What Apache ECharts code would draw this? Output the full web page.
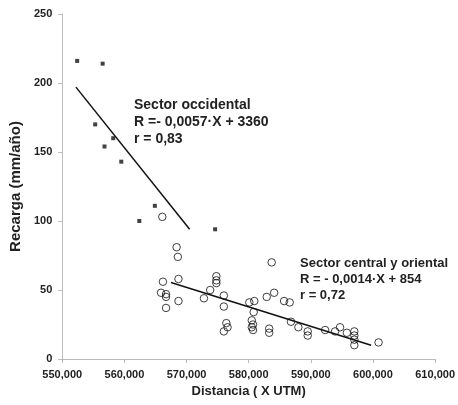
<!DOCTYPE html>
<html>
<head>
<meta charset="utf-8">
<script src="https://cdn.jsdelivr.net/npm/echarts@6/dist/echarts.min.js"></script>
<style>html,body{margin:0;padding:0;background:#fff}#c{width:458px;height:405px}</style>
</head>
<body>
<div id="c"></div>
<script>
// Sector occidental (filled squares)
var occX = [552400, 556500, 555300, 558200, 556800, 559500, 564900, 562400, 574600];
var occY = [216, 214, 170, 160, 154, 143, 111, 100, 94];
// Sector central y oriental (open circles)
var cenX = [566100, 568400, 568600, 566200, 568700, 565900, 566700, 566700, 568700, 566700,
            574800, 574800, 574800, 573800, 572800, 576000, 576000, 576400, 576000, 576600,
            583700, 580100, 580900, 582900, 584100, 585700, 586600, 580800, 580500, 580700,
            580500, 580700, 583300, 583300, 586800, 588000, 589500, 589500, 592300, 593900,
            594700, 595800, 597000, 597000, 597000, 597000, 600900];
var cenY = [103, 81, 74, 56, 58, 48, 47, 45, 42, 37,
            60, 57, 55, 50, 44, 46, 38, 26, 20, 23,
            70, 41, 42, 45, 48, 42, 41, 34, 28, 25,
            23, 21, 22, 19, 27, 23, 20, 17, 21, 20,
            23, 19, 20, 17, 14, 10, 12];
// Regression lines (endpoints)
var occLineX = [552200, 570500];
var occLineY = [197, 94];
var cenLineX = [567500, 599700];
var cenLineY = [55.5, 10];
// Ticks
var xTicks = [550000, 560000, 570000, 580000, 590000, 600000, 610000];
var yTicks = [0, 50, 100, 150, 200, 250];
var occText = ['Sector occidental', 'R =- 0,0057·X + 3360', 'r = 0,83'];
var cenText = ['Sector central y oriental', 'R = - 0,0014·X + 854', 'r = 0,72'];

function zip(a, b) { return a.map(function (v, i) { return [v, b[i]]; }); }
var FONT = '"Liberation Sans", Arial, sans-serif';
var TXT = '#222';
var chart = echarts.init(document.getElementById('c'));
chart.setOption({
  backgroundColor: '#fff',
  animation: false,
  grid: { left: 59, right: 22, top: 14, bottom: 46 },
  xAxis: {
    type: 'value', min: xTicks[0], max: xTicks[xTicks.length - 1], interval: 10000,
    name: 'Distancia ( X UTM)', nameLocation: 'middle', nameGap: 25,
    nameTextStyle: { fontFamily: FONT, fontWeight: 'bold', fontSize: 13, color: TXT },
    axisLine: { lineStyle: { color: '#bbb', width: 1 } },
    axisTick: { show: true, length: 4, lineStyle: { color: '#bbb' } },
    axisLabel: { margin: 10, fontFamily: FONT, fontWeight: 'bold', fontSize: 11, color: TXT },
    splitLine: { show: false }
  },
  yAxis: {
    type: 'value', min: yTicks[0], max: yTicks[yTicks.length - 1], interval: 50,
    name: 'Recarga (mm/año)', nameLocation: 'middle', nameGap: 29, nameRotate: 90,
    nameTextStyle: { fontFamily: FONT, fontWeight: 'bold', fontSize: 15, color: TXT },
    axisLine: { show: true, lineStyle: { color: '#bbb', width: 1 } },
    axisTick: { show: true, length: 4, lineStyle: { color: '#bbb' } },
    axisLabel: { margin: 10, fontFamily: FONT, fontWeight: 'bold', fontSize: 11, color: TXT },
    splitLine: { show: false }
  },
  series: [
    { type: 'line', data: zip(occLineX, occLineY), symbol: 'none',
      lineStyle: { color: '#111', width: 1.5 }, z: 2 },
    { type: 'line', data: zip(cenLineX, cenLineY), symbol: 'none',
      lineStyle: { color: '#111', width: 1.5 }, z: 2 },
    { type: 'scatter', data: zip(cenX, cenY), symbol: 'circle', symbolSize: 7.5,
      itemStyle: { color: 'rgba(255,255,255,0)', borderColor: '#111', borderWidth: 1 }, z: 3 },
    { type: 'scatter', data: zip(occX, occY), symbol: 'rect', symbolSize: 4,
      itemStyle: { color: '#111' }, z: 3 }
  ],
  graphic: [
    { type: 'text', left: 134, top: 97, style: { text: occText.join('\n'), font: 'bold 14px ' + FONT, fill: TXT, lineHeight: 17 } },
    { type: 'text', left: 300, top: 255, style: { text: cenText.join('\n'), font: 'bold 13px ' + FONT, fill: TXT, lineHeight: 16 } }
  ]
});
</script>
</body>
</html>
